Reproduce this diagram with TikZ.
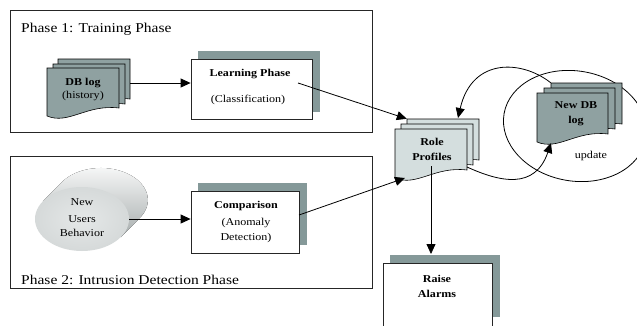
\documentclass[tikz,border=0pt]{standalone}
\usepackage{fontspec}
\setmainfont{Liberation Serif}[FakeStretch=1.15]
\usetikzlibrary{arrows.meta,shapes.geometric}
\definecolor{docdark}{RGB}{143,161,161}
\definecolor{doclight}{RGB}{212,222,222}
\definecolor{shadowc}{RGB}{133,153,153}
\definecolor{cylfront}{RGB}{220,224,224}
\definecolor{cylback}{RGB}{190,197,197}
\newcommand\docshape[5]{%
  \filldraw[fill=#5,draw=black,line width=0.6pt]
    (#1,#2) -- ({#1+#3},#2) -- ({#1+#3},{#2+#4-8})
    .. controls ({#1+0.55*#3},{#2+#4-12}) and ({#1+0.3*#3},{#2+#4+9}) .. (#1,{#2+#4}) -- cycle;}
\tikzset{
  phasebox/.style={draw=black!85,line width=0.8pt},
  whitebox/.style={draw=black!85,fill=white,line width=0.8pt,inner sep=0pt},
  shadowbox/.style={fill=shadowc,draw=none,inner sep=0pt},
  arr/.style={draw=black,line width=0.8pt,-{Triangle[length=10pt,width=9pt]}},
  lbl/.style={font=\fontsize{13.5}{15}\selectfont,inner sep=0pt},
  txt/.style={font=\fontsize{10.5}{12}\selectfont,inner sep=0pt,anchor=base},
  area/.style={inner sep=0pt,draw=none}
}
\begin{document}
\begin{tikzpicture}[x=1pt,y=-1pt]
\useasboundingbox (0,0) rectangle (637,325);
% phase boxes
\draw[phasebox] (10,10) rectangle (372,132);
\draw[phasebox] (10,156) rectangle (372,288);
\node[lbl,anchor=base west] (p1) at (21,32) {Phase 1: Training Phase};
\node[lbl,anchor=base west] (p2) at (21,284) {Phase 2: Intrusion Detection Phase};
% big ellipse
\draw[line width=0.8pt,rotate around={-10:(575,126)}] (575,126) ellipse (72 and 55);
% DB log stack
\docshape{58}{59}{72}{48}{docdark}
\docshape{53}{64}{72}{48}{docdark}
\docshape{47}{68}{72}{48}{docdark}
\node[area,minimum width=72pt,minimum height=48pt] (db3) at (94,83) {};
\node[area,minimum width=72pt,minimum height=48pt] (db) at (83,92) {};
\node[txt] (dbt1) at (83,85) {\textbf{DB log}};
\node[txt] (dbt2) at (83,98) {(history)};
% Learning phase
\node[shadowbox,minimum width=122pt,minimum height=61pt] (learnsh) at (259,81.5) {};
\node[whitebox,minimum width=121pt,minimum height=60pt] (learn) at (251.5,89) {};
\node[txt] (lt1) at (250,76) {\textbf{Learning Phase}};
\node[txt] (lt2) at (248,102) {(Classification)};
% cylinder
\fill[top color=white!92!cylback,bottom color=cylback!88!black]
  (43,201) -- (62,182) arc[start angle=214.2,end angle=394.2,x radius=47,y radius=32] -- (121,237) -- cycle;
\node[ellipse,inner sep=0pt,minimum width=94pt,minimum height=64pt,inner color=cylfront!75!white,outer color=cylfront!97!black] (users) at (82,219) {};
\node[txt] (ut1) at (82,205) {New};
\node[txt] (ut2) at (82,222) {Users};
\node[txt] (ut3) at (82,236) {Behavior};
% Comparison
\node[shadowbox,minimum width=109pt,minimum height=62pt] (compsh) at (252.5,214) {};
\node[whitebox,minimum width=108pt,minimum height=62pt] (comp) at (245,222) {};
\node[txt] (ct1) at (246,208) {\textbf{Comparison}};
\node[txt] (ct2) at (246,225) {(Anomaly};
\node[txt] (ct3) at (246,240) {Detection)};
% Role profiles
\docshape{407}{119}{72}{49}{doclight}
\docshape{401}{124}{72}{49}{doclight}
\docshape{395}{129}{72}{49}{doclight}
\node[area,minimum width=72pt,minimum height=49pt] (role3) at (443,143.5) {};
\node[area,minimum width=72pt,minimum height=49pt] (role) at (431,153.5) {};
\node[txt] (rt1) at (432,145) {\textbf{Role}};
\node[txt] (rt2) at (432,160) {\textbf{Profiles}};
% New DB log
\docshape{551}{83}{71}{49}{docdark}
\docshape{544}{88}{71}{49}{docdark}
\docshape{537}{93}{71}{49}{docdark}
\node[area,minimum width=71pt,minimum height=49pt] (ndb3) at (586.5,107.5) {};
\node[area,minimum width=71pt,minimum height=49pt] (ndb) at (572.5,117.5) {};
\node[txt] (nt1) at (576,108) {\textbf{New DB}};
\node[txt] (nt2) at (576,123) {\textbf{log}};
\node[txt] (upd) at (591,158) {update};
% Raise alarms
\node[shadowbox,minimum width=110pt,minimum height=62pt] (raisesh) at (445,286) {};
\node[whitebox,minimum width=109pt,minimum height=70pt] (raise) at (437.5,298) {};
\node[txt] (at1) at (437,282) {\textbf{Raise}};
\node[txt] (at2) at (437,297) {\textbf{Alarms}};
% connectors
\coordinate (c2s) at (298,83);
\coordinate (c3s) at (299,215);
\coordinate (c3e) at (405,178);
\coordinate (c4s) at (431,166);
\coordinate (c4e) at (431,254);
\coordinate (c5e) at (458,118);
\coordinate (c6s) at (467,167);
\coordinate (c6e) at (551,143);
\draw[arr] (db3.east) -- (db3.east -| learn.west);
\draw[arr] (users.east) -- (users.east -| comp.west);
\draw[arr] (c2s) -- (role3.north west);
\draw[arr] (c3s) -- (c3e);
\draw[arr] (c4s) -- (c4e);
\draw[arr] (ndb3.north west) .. controls (522,60) and (472,57) .. (c5e);
\draw[arr] (c6s) .. controls (500,182) and (535,190) .. (c6e);
\end{tikzpicture}
\end{document}
